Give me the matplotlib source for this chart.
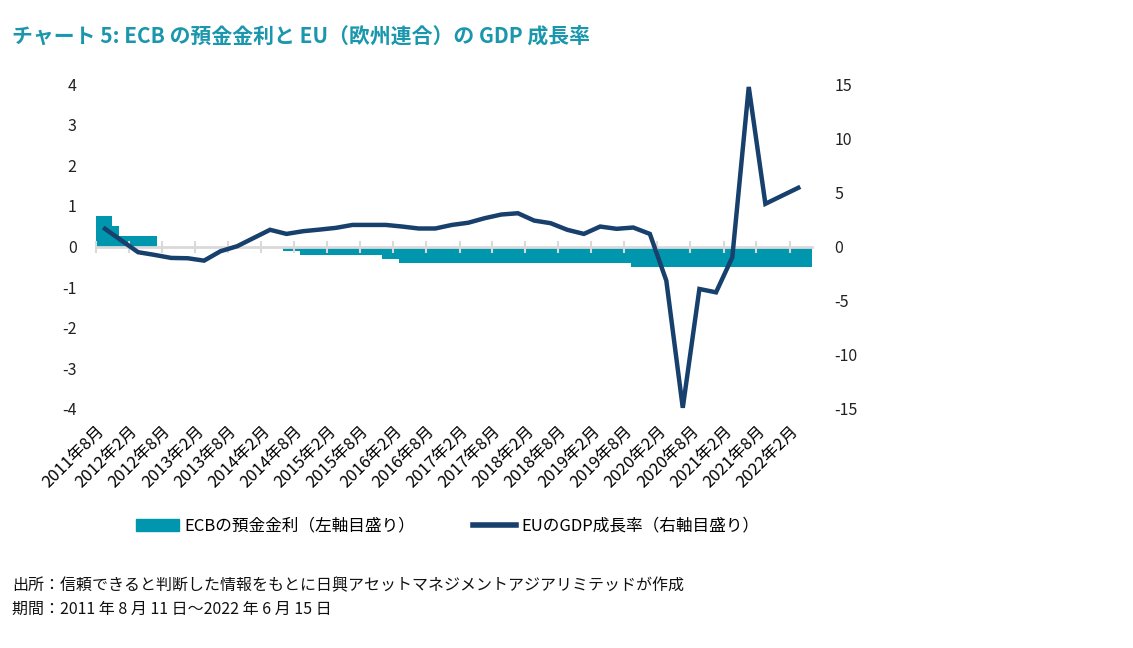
import numpy as np
import pandas as pd
import matplotlib
matplotlib.use("Agg")
import matplotlib.pyplot as plt
from matplotlib.patches import Patch
from matplotlib.lines import Line2D

plt.rcParams['font.family'] = ['Noto Sans CJK JP', 'DejaVu Sans']
plt.rcParams['axes.unicode_minus'] = False

# ECB の預金金利（変更日とその水準）
rate_dates = pd.to_datetime(['2011-08-11', '2011-11-09', '2011-12-14', '2012-07-11',
                             '2014-06-11', '2014-09-10', '2015-12-09', '2016-03-16',
                             '2019-09-18', '2022-06-15'])
rate_vals = [0.75, 0.5, 0.25, 0.0, -0.1, -0.2, -0.3, -0.4, -0.5, -0.5]

# EU の GDP 成長率（四半期、前年比）
gdp_dates = pd.date_range('2011-09-30', periods=43, freq='QE')
gdp_vals = [1.64, 0.55,
            -0.52, -0.77, -1.05, -1.08,
            -1.3, -0.43, 0.03, 0.8,
            1.55, 1.17, 1.42, 1.57,
            1.73, 2.0, 2.0, 2.0,
            1.85, 1.67, 1.67, 2.0,
            2.2, 2.62, 2.96, 3.08,
            2.4, 2.16, 1.55, 1.17,
            1.85, 1.64, 1.76, 1.17,
            -3.15, -14.9, -3.92, -4.23,
            -0.99, 14.75, 3.95, 4.7,
            5.43]

tick_dates = pd.date_range('2011-08-01', '2022-02-01', freq='6MS') + pd.Timedelta(days=10)
tick_labels = [f"{d.year}年{d.month}月" for d in tick_dates]

teal = '#0096ae'
navy = '#17406d'

fig = plt.figure(figsize=(11.33, 6.48), dpi=100)
ax = fig.add_axes([0.0847, 0.369, 0.632, 0.501])
ax2 = ax.twinx()

ax.fill_between(rate_dates, rate_vals, step='post', color=teal, lw=0, zorder=1)
ax2.plot(gdp_dates, gdp_vals, color=navy, lw=3.2, solid_joinstyle='miter')

ax.set_xlim(pd.Timestamp('2011-08-11'), pd.Timestamp('2022-06-15'))
ax.set_ylim(-4, 4)
ax.set_yticks(range(-4, 5))
ax2.set_ylim(-15, 15)
ax2.set_yticks(range(-15, 16, 5))

for a in (ax, ax2):
    for s in ['top', 'left', 'right', 'bottom']:
        a.spines[s].set_visible(False)
    a.tick_params(axis='y', length=0, labelsize=11.5, colors='#222222')
ax.tick_params(axis='y', pad=14)
ax2.tick_params(axis='y', pad=16)

# 0 の位置の軸線と目盛り
ax.spines['bottom'].set_visible(True)
ax.spines['bottom'].set_position(('data', 0))
ax.spines['bottom'].set_color('#d9d9d9')
ax.spines['bottom'].set_linewidth(2)
ax.spines['bottom'].set_zorder(3)
ax.set_xticks(tick_dates)
ax.tick_params(axis='x', direction='inout', length=8, width=1.5, color='#d9d9d9', labelbottom=False)

sec = ax.secondary_xaxis(0)
sec.set_xticks(tick_dates)
sec.set_xticklabels(tick_labels, rotation=45, ha='right', rotation_mode='anchor', fontsize=12)
sec.tick_params(axis='x', length=0, pad=10)
sec.spines['bottom'].set_visible(False)

fig.text(0.011, 0.945, 'チャート 5: ECB の預金金利と EU（欧州連合）の GDP 成長率',
         color='#1a96ad', fontsize=15, fontweight='bold', va='center')

handles = [Patch(color=teal), Line2D([0], [0], color=navy, lw=4)]
labels = ['ECBの預金金利（左軸目盛り）', 'EUのGDP成長率（右軸目盛り）']
fig.legend(handles, labels, loc='center', bbox_to_anchor=(0.395, 0.188), ncol=2,
           frameon=False, fontsize=12, handlelength=2.6, handleheight=0.7,
           columnspacing=3.5, handletextpad=0.3)

fig.text(0.011, 0.096, '出所：信頼できると判断した情報をもとに日興アセットマネジメントアジアリミテッドが作成',
         fontsize=11.5, va='center', color='#111111')
fig.text(0.011, 0.059, '期間：2011 年 8 月 11 日～2022 年 6 月 15 日',
         fontsize=11.5, va='center', color='#111111')

fig.savefig('out.png', dpi=100)
